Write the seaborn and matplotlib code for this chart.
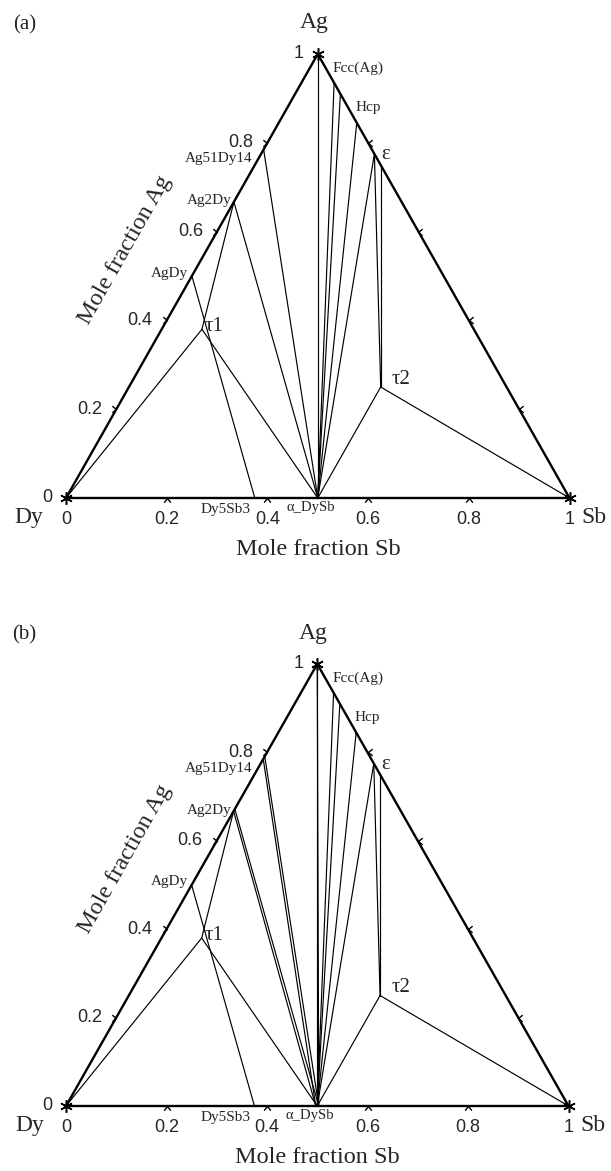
import numpy as np
import pandas as pd
import matplotlib
matplotlib.use("Agg")
import matplotlib.pyplot as plt
from matplotlib.path import Path
import seaborn as sns

sns.set_style("white")
plt.rcParams["font.family"] = ["Liberation Serif", "DejaVu Serif"]

# Phase compositions (mole fraction Sb, mole fraction Ag); x_Dy = 1 - x_Sb - x_Ag
phase = ["Dy", "Sb", "Ag", "AgDy", "Ag2Dy", "Ag51Dy14", "Dy5Sb3", "DySb",
         "fcc", "hcp_l", "hcp_r", "eps_l", "eps_r", "tau1", "tau2",
         "DySb_lo", "DySb_hi", "Ag2Dy_hi", "Ag51Dy14_hi"]
x_sb = [0.0, 1.0, 0.0, 0.0, 0.0, 0.0, 0.375, 0.5,
        0.065, 0.09, 0.155, 0.225, 0.25, 0.08, 0.5,
        0.497, 0.503, 0.0, 0.0]
x_ag = [0.0, 0.0, 1.0, 0.5, 0.667, 0.785, 0.0, 0.0,
        0.935, 0.91, 0.845, 0.775, 0.75, 0.38, 0.25,
        0.0, 0.0, 0.672, 0.791]

# Tie lines of the isothermal sections
ties_a = [("Dy", "tau1"), ("AgDy", "Dy5Sb3"), ("tau1", "Ag2Dy"), ("tau1", "DySb"),
          ("Ag2Dy", "DySb"), ("Ag51Dy14", "DySb"), ("Ag", "DySb"),
          ("fcc", "DySb"), ("hcp_l", "DySb"), ("hcp_r", "DySb"), ("eps_l", "DySb"),
          ("eps_l", "tau2"), ("eps_r", "tau2"), ("tau2", "DySb"), ("tau2", "Sb")]
ties_b = [("Dy", "tau1"), ("AgDy", "Dy5Sb3"), ("tau1", "Ag2Dy"), ("tau1", "DySb"),
          ("Ag2Dy", "DySb_lo"), ("Ag2Dy_hi", "DySb_hi"),
          ("Ag51Dy14", "DySb_lo"), ("Ag51Dy14_hi", "DySb_hi"),
          ("Ag", "DySb"), ("Ag", "DySb_hi"),
          ("fcc", "DySb"), ("hcp_l", "DySb"), ("hcp_r", "DySb"), ("eps_l", "DySb"),
          ("eps_l", "tau2"), ("eps_r", "tau2"), ("tau2", "DySb"), ("tau2", "Sb")]

# Phase labels: text, anchor phase, offset (pixels), alignment, size
label_text = ["Fcc(Ag)", "Hcp", "ε", "Ag51Dy14", "Ag2Dy", "AgDy", "τ1", "τ2", "Dy5Sb3", "α_DySb"]
label_anchor = ["Ag", "hcp_l", "eps_l", "Ag51Dy14", "Ag2Dy", "AgDy", "tau1", "tau2", "Dy5Sb3", "DySb"]
label_offset = [(15, -14), (15, -14), (7, -1), (-11, -9), (-2, 1), (-4, 3), (3, 3), (11, 8), (-4, -11), (-7, -10)]
label_ha = ["left", "left", "left", "right", "right", "right", "left", "left", "right", "center"]
label_size = [11, 11, 15, 11, 11, 11, 15, 15, 11, 10.5]

tick_values = [0.0, 0.2, 0.4, 0.6, 0.8, 1.0]
tick_labels = ["0", "0.2", "0.4", "0.6", "0.8", "1"]

comp = {p: (s, a) for p, s, a in zip(phase, x_sb, x_ag)}


def to_xy(sb, ag):
    return sb + ag / 2.0, ag


def draw_panel(ax, ties, tag):
    rows = []
    for k, (p, q) in enumerate(ties):
        for name in (p, q):
            x, y = to_xy(*comp[name])
            rows.append({"seg": k, "x": x, "y": y})
    tie_df = pd.DataFrame(rows)
    sns.lineplot(data=tie_df, x="x", y="y", units="seg", estimator=None, sort=False,
                 color="black", linewidth=0.85, ax=ax, legend=False)

    frame = ["Dy", "Sb", "Ag", "Dy"]
    fx, fy = zip(*[to_xy(*comp[n]) for n in frame])
    frame_df = pd.DataFrame({"x": fx, "y": fy, "seg": 0})
    sns.lineplot(data=frame_df, x="x", y="y", units="seg", estimator=None, sort=False,
                 color="black", linewidth=1.7, ax=ax, legend=False)

    # corner stars
    cx, cy = zip(*[to_xy(*comp[n]) for n in ["Dy", "Sb", "Ag"]])
    ax.plot(cx, cy, ls="none", marker=(6, 2, 0), ms=9, mew=1.1, color="black")

    inner = np.array(tick_values[1:-1])
    bottom = Path([(-0.8, -1), (0, 0), (0.8, -1)], [Path.MOVETO, Path.LINETO, Path.LINETO])
    left = Path([(-1, 0.8), (0, 0), (-1, -0.8)], [Path.MOVETO, Path.LINETO, Path.LINETO])
    right = Path([(1, 0.8), (0, 0), (1, -0.8)], [Path.MOVETO, Path.LINETO, Path.LINETO])
    ax.plot(inner, np.zeros_like(inner), ls="none", marker=bottom, ms=6, mew=1.0,
            mfc="none", color="black")
    lx, ly = to_xy(np.zeros_like(inner), inner)
    ax.plot(lx, ly, ls="none", marker=left, ms=6, mew=1.0, mfc="none", color="black")
    rx, ry = to_xy(inner, 1 - inner)
    ax.plot(rx, ry, ls="none", marker=right, ms=6, mew=1.0, mfc="none", color="black")

    for line in ax.lines:
        line.set_clip_on(False)

    # tick labels: Ag along the left edge, Sb along the base
    for v, t in zip(tick_values, tick_labels):
        x, y = to_xy(0.0, v)
        ax.annotate(t, (x, y), xytext=(-14, 0), textcoords="offset pixels",
                    ha="right", va="center", fontsize=13, family="Liberation Sans")
        ax.annotate(t, (v, 0.0), xytext=(0, -21), textcoords="offset pixels",
                    ha="center", va="center", fontsize=13, family="Liberation Sans")

    for t, a, off, ha, fs in zip(label_text, label_anchor, label_offset, label_ha, label_size):
        ax.annotate(t, to_xy(*comp[a]), xytext=off, textcoords="offset pixels",
                    ha=ha, va="center", fontsize=fs)

    ax.text(0.492, 1.07, "Ag", ha="center", va="center", fontsize=17)
    ax.text(-0.073, -0.043, "Dy", ha="center", va="center", fontsize=17)
    ax.text(1.049, -0.043, "Sb", ha="center", va="center", fontsize=17)
    ax.text(0.501, -0.117, "Mole fraction Sb", ha="center", va="center", fontsize=17.5)
    ax.text(0.117, 0.559, "Mole fraction Ag", ha="center", va="center", fontsize=17.5,
            rotation=60.5, rotation_mode="anchor")
    ax.text(-0.083, 1.065, tag, ha="center", va="center", fontsize=15)

    ax.set_xlim(0, 1)
    ax.set_ylim(0, 1)
    ax.set_xlabel("")
    ax.set_ylabel("")
    ax.axis("off")


W, H = 611, 1171
fig = plt.figure(figsize=(W / 100, H / 100), dpi=100)
ax_a = fig.add_axes([66 / W, (H - 498) / H, 503.5 / W, 444 / H])
ax_b = fig.add_axes([66 / W, (H - 1106) / H, 502.5 / W, 442 / H])
draw_panel(ax_a, ties_a, "(a)")
draw_panel(ax_b, ties_b, "(b)")
fig.savefig("out.png", dpi=100, facecolor="white")
